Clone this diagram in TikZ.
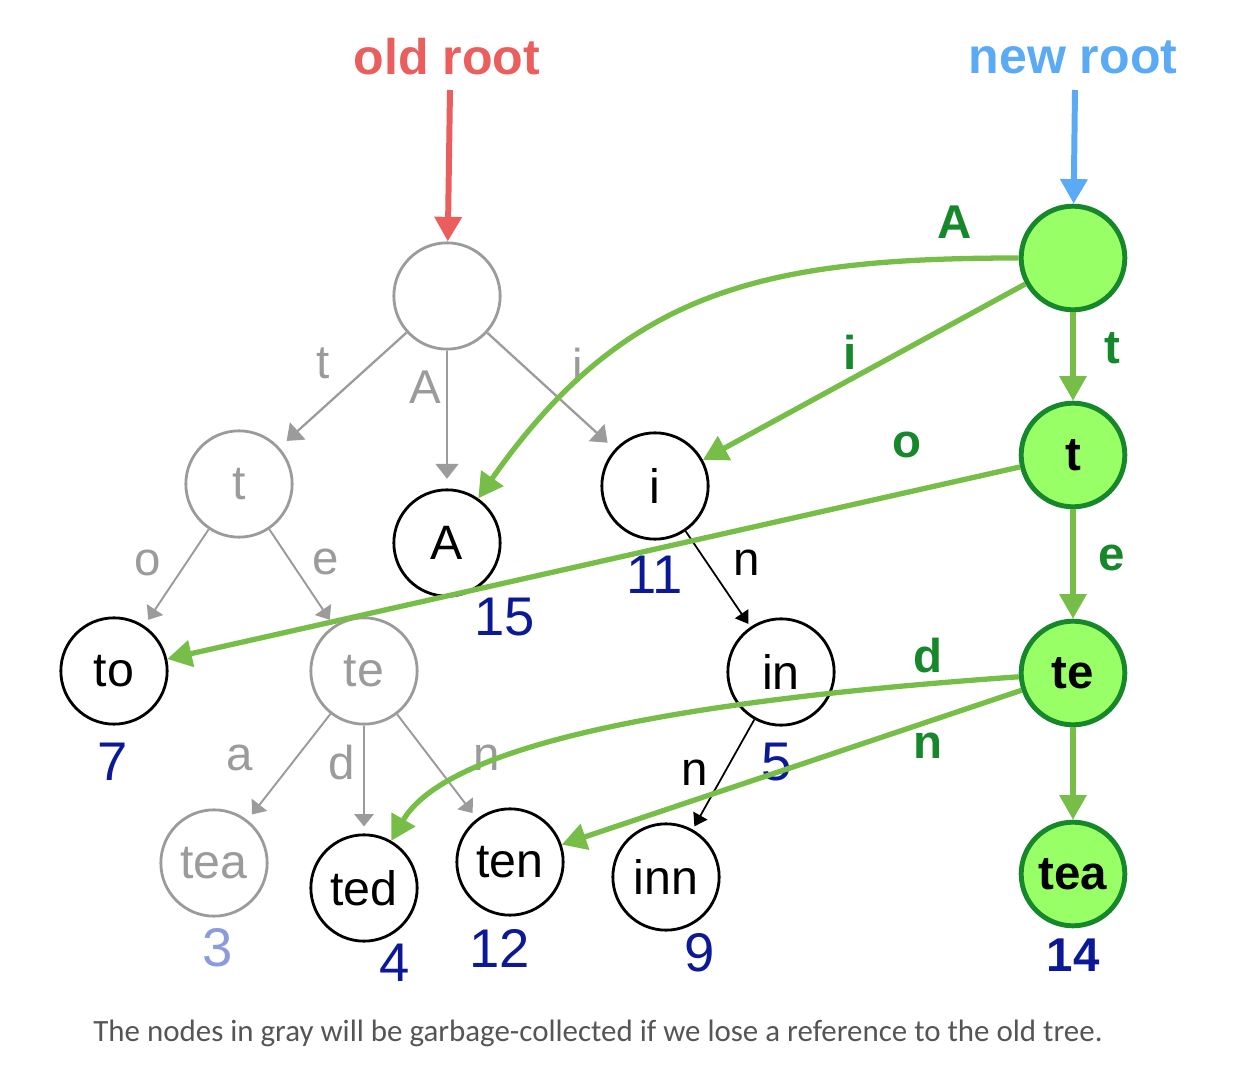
\documentclass[tikz,border=0pt]{standalone}
\usepackage{fontspec}
\setmainfont{Liberation Sans}
\newfontfamily\capfont{Carlito}
\usetikzlibrary{arrows.meta}

\definecolor{oldred}{RGB}{234,94,94}
\definecolor{newblue}{RGB}{90,170,245}
\definecolor{oldgray}{RGB}{155,155,155}
\definecolor{glink}{RGB}{118,190,72}
\definecolor{gfill}{RGB}{153,255,102}
\definecolor{gdark}{RGB}{22,135,42}
\definecolor{navy}{RGB}{12,25,150}
\definecolor{paleno}{RGB}{140,155,220}
\definecolor{captxt}{RGB}{85,85,85}

\tikzset{
  lbl/.style={font=\fontsize{27}{30}\selectfont, inner sep=0pt},
  num/.style={font=\fontsize{31}{34}\selectfont, text=navy, inner sep=0pt},
  oldnode/.style={circle, draw=oldgray, line width=1.6pt, minimum size=60.5pt, inner sep=0pt,
    text=oldgray, font=\fontsize{27.5}{30}\selectfont},
  livenode/.style={circle, draw=black, line width=1.6pt, minimum size=60.5pt, inner sep=0pt,
    font=\fontsize{27.5}{30}\selectfont},
  newnode/.style={circle, draw=gdark, fill=gfill, line width=2.8pt, minimum size=59pt, inner sep=0pt,
    font=\bfseries\fontsize{27}{30}\selectfont},
  graytop/.style={draw=oldgray, line width=1.3pt, -{Triangle[length=8.5pt,width=13pt]}, shorten >=5.5pt},
  graylow/.style={draw=oldgray, line width=1.1pt, -{Triangle[length=7pt,width=11pt]}, shorten >=4pt},
  blacklink/.style={draw=black, line width=1pt, -{Triangle[length=7pt,width=9pt]}, shorten >=2pt},
  greenlink/.style={draw=glink, line width=3pt, -{Triangle[length=14pt,width=15pt]}},
  greenlbl/.style={font=\bfseries\fontsize{27}{30}\selectfont, text=gdark, inner sep=0pt},
  rootarrow/.style={line width=3.4pt, -{Triangle[length=14pt,width=15pt]}},
  rootlbl/.style={font=\bfseries\fontsize{28.5}{32}\selectfont, inner sep=0pt}
}

\begin{document}
\begin{tikzpicture}[x=0.02cm, y=-0.02cm]
\useasboundingbox (0,0) rectangle (1244,1070);

% root pointers
\node[rootlbl, text=oldred] (oldlbl) at (447,57) {old root};
\node[rootlbl, text=newblue] (newlbl) at (1073,57) {new root};
\coordinate (oldtail) at (450,90);
\coordinate (newtail) at (1075,90);

% old trie
\node[oldnode] (r) at (447,296) {};
\node[oldnode] (t) at (239,484) {t};
\node[livenode] (A) at (447,543) {A};
\node[livenode] (i) at (655,486) {i};
\node[livenode] (to) at (114,671) {to};
\node[oldnode] (te) at (364,671) {te};
\node[livenode] (in) at (781,672) {in};
\node[oldnode] (tea) at (214,863) {tea};
\node[livenode] (ted) at (364,888) {ted};
\node[livenode] (ten) at (510,862) {ten};
\node[livenode] (inn) at (666,877) {inn};

% new path
\node[newnode] (nr) at (1073,258) {};
\node[newnode] (nt) at (1073,455) {t};
\node[newnode] (nte) at (1073,673) {te};
\node[newnode] (ntea) at (1073,874) {tea};

% values
\node[num] (v15) at (505,617) {15};
\node[num] (v11) at (655,575) {11};
\node[num] (v7) at (113,762) {7};
\node[num] (v5) at (777,762) {5};
\node[num, text=paleno] (v3) at (218,948) {3};
\node[num] (v4) at (395,963) {4};
\node[num] (v12) at (500,948) {12};
\node[num] (v9) at (700,953) {9};
\node[num, font=\bfseries\fontsize{27}{30}\selectfont] (v14) at (1073,955) {14};

% pointer arrows
\draw[rootarrow, draw=oldred, oldred] (oldtail) -- (r);
\draw[rootarrow, draw=newblue, newblue] (newtail) -- (nr);

% old edges
\draw[graytop] (r) -- (t);
\draw[graytop] (r) -- (A);
\draw[graytop] (r) -- (i);
\draw[graylow] (t) -- (to);
\draw[graylow] (t) -- (te);
\draw[graylow] (te) -- (tea);
\draw[graylow] (te) -- (ted);
\draw[graylow] (te) -- (ten);
\draw[blacklink] (i) -- (in);
\draw[blacklink] (in) -- (inn);

\node[lbl, text=oldgray] (et) at (323,363) {t};
\node[lbl, text=oldgray] (eA) at (425,387) {A};
\node[lbl, text=oldgray] (ei) at (578,365) {i};
\node[lbl, text=oldgray] (eo) at (148,563) {o};
\node[lbl, text=oldgray] (ee) at (326,562) {e};
\node[lbl, text=oldgray] (ea) at (240,758) {a};
\node[lbl, text=oldgray] (ed) at (342,763) {d};
\node[lbl, text=oldgray] (en) at (487,758) {n};
\node[lbl] (ein) at (747,563) {n};
\node[lbl] (einn) at (695,773) {n};

% new edges (curve angles are measured on the page)
\draw[greenlink] (nr) to[out=180, in=55, looseness=1.1] (A);
\draw[greenlink] (nr) -- (i);
\draw[greenlink] (nr) -- (nt);
\draw[greenlink] (nt) -- (to);
\draw[greenlink] (nt) -- (nte);
\draw[greenlink] (nte) to[out=184, in=60, out looseness=1, in looseness=0.5] (ted);
\draw[greenlink] (nte) -- (ten);
\draw[greenlink] (nte) -- (ntea);

\node[greenlbl] (gA) at (955,222) {A};
\node[greenlbl] (gi) at (850,352) {i};
\node[greenlbl] (gt) at (1112,348) {t};
\node[greenlbl] (go) at (907,445) {o};
\node[greenlbl] (ge) at (1112,558) {e};
\node[greenlbl] (gd) at (928,656) {d};
\node[greenlbl] (gn) at (928,746) {n};

% caption
\node[font=\capfont\fontsize{17.6}{20}\selectfont, text=captxt, inner sep=0pt] (cap) at (598,1033)
  {The nodes in gray will be garbage-collected if we lose a reference to the old tree.};
\end{tikzpicture}
\end{document}
